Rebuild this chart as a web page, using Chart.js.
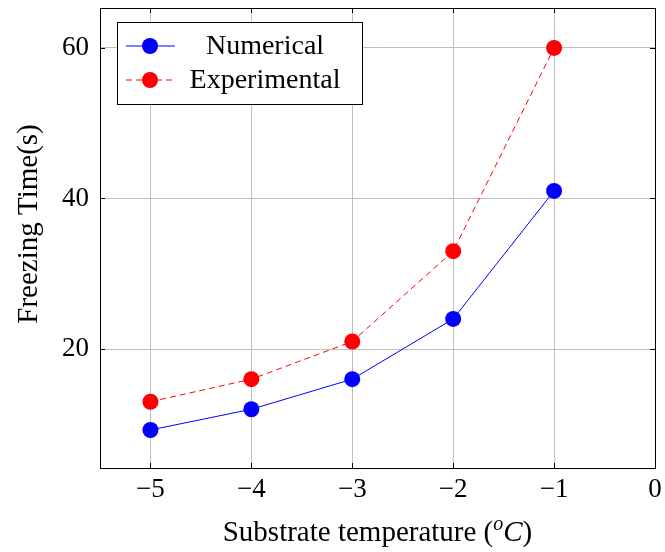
<!DOCTYPE html>
<html>
<head>
<meta charset="utf-8">
<script src="https://cdn.jsdelivr.net/npm/chart.js@4"></script>
<style>
  body { margin: 0; background: #fff; }
  #wrap { width: 665px; height: 552px; }
</style>
</head>
<body>
<div id="wrap"><canvas id="myChart" width="665" height="552"></canvas></div>
<script>
// data
const temperatures = [-5, -4, -3, -2, -1];
const numerical = [9.25, 12, 16, 24, 41];
const experimental = [13, 16, 21, 33, 60];
const xTicks = [-5, -4, -3, -2, -1, 0];
const yTicks = [20, 40, 60];

const FONT = "'Liberation Serif', 'DejaVu Serif', serif";

const toPoints = (xs, ys) => xs.map((x, i) => ({ x: x, y: ys[i] }));

// frame, inner ticks, legend and axis titles
const decorations = {
    id: 'decorations',
    afterDatasetsDraw(chart) {
        const ctx = chart.ctx;
        const a = chart.chartArea;
        const xs = chart.scales.x, ys = chart.scales.y;
        ctx.save();
        // inner tick marks
        ctx.strokeStyle = '#000';
        ctx.lineWidth = 1;
        ctx.beginPath();
        xTicks.forEach(v => {
            const px = Math.round(xs.getPixelForValue(v)) + 0.5;
            ctx.moveTo(px, a.bottom); ctx.lineTo(px, a.bottom - 5);
            ctx.moveTo(px, a.top); ctx.lineTo(px, a.top + 5);
        });
        yTicks.forEach(v => {
            const py = Math.round(ys.getPixelForValue(v)) + 0.5;
            ctx.moveTo(a.left, py); ctx.lineTo(a.left + 5, py);
            ctx.moveTo(a.right, py); ctx.lineTo(a.right - 5, py);
        });
        ctx.stroke();
        // frame
        ctx.strokeRect(Math.round(a.left) + 0.5, Math.round(a.top) + 0.5,
            Math.round(a.right - a.left), Math.round(a.bottom - a.top));

        // legend
        const lx = a.left + 17, ly = a.top + 14, lw = 245, lh = 82;
        ctx.fillStyle = '#fff';
        ctx.fillRect(lx, ly, lw, lh);
        ctx.strokeRect(lx + 0.5, ly + 0.5, lw, lh);
        chart.data.datasets.forEach((ds, i) => {
            const cy = ly + 24 + i * 34;
            ctx.strokeStyle = ds.borderColor;
            ctx.setLineDash(ds.borderDash || []);
            ctx.beginPath();
            ctx.moveTo(lx + 9, cy); ctx.lineTo(lx + 58, cy);
            ctx.stroke();
            ctx.setLineDash([]);
            ctx.fillStyle = ds.pointBackgroundColor;
            ctx.beginPath();
            ctx.arc(lx + 33, cy, 8, 0, Math.PI * 2);
            ctx.fill();
            ctx.fillStyle = '#000';
            ctx.font = "28px " + FONT;
            ctx.textAlign = 'center';
            ctx.textBaseline = 'middle';
            ctx.fillText(ds.label, lx + 148, cy + 1);
        });

        // y axis title
        ctx.save();
        ctx.translate(29, 224);
        ctx.rotate(-Math.PI / 2);
        ctx.font = "29px " + FONT;
        ctx.textAlign = 'center';
        ctx.textBaseline = 'middle';
        ctx.fillStyle = '#000';
        ctx.fillText('Freezing Time(s)', 0, 0);
        ctx.restore();

        // x axis title with superscript o and italic C
        const parts = [
            { t: 'Substrate temperature (', f: "29px " + FONT, dy: 0 },
            { t: 'o', f: "italic 20px " + FONT, dy: -11 },
            { t: 'C', f: "italic 29px " + FONT, dy: 0 },
            { t: ')', f: "29px " + FONT, dy: 0 }
        ];
        let total = 0;
        parts.forEach(p => { ctx.font = p.f; p.w = ctx.measureText(p.t).width; total += p.w; });
        let x = (a.left + a.right) / 2 - total / 2;
        const by = 541;
        ctx.textAlign = 'left';
        ctx.textBaseline = 'alphabetic';
        ctx.fillStyle = '#000';
        parts.forEach(p => { ctx.font = p.f; ctx.fillText(p.t, x, by + p.dy); x += p.w; });
        ctx.restore();
    }
};

const ctx = document.getElementById('myChart').getContext('2d');
new Chart(ctx, {
    type: 'line',
    data: {
        datasets: [{
            label: 'Numerical',
            data: toPoints(temperatures, numerical),
            borderColor: '#0000ff',
            backgroundColor: '#0000ff',
            pointBackgroundColor: '#0000ff',
            pointBorderWidth: 0,
            pointRadius: 8,
            borderWidth: 1,
            tension: 0
        }, {
            label: 'Experimental',
            data: toPoints(temperatures, experimental),
            borderColor: '#ff0000',
            backgroundColor: '#ff0000',
            pointBackgroundColor: '#ff0000',
            pointBorderWidth: 0,
            pointRadius: 8,
            borderWidth: 1,
            borderDash: [6, 4],
            tension: 0
        }]
    },
    options: {
        responsive: false,
        animation: false,
        layout: { padding: { left: 0, right: 10, top: 8, bottom: 0 } },
        plugins: {
            legend: { display: false },
            tooltip: { enabled: false }
        },
        scales: {
            x: {
                type: 'linear',
                min: -5.5,
                max: 0,
                afterFit: s => { s.height = 84; s.paddingLeft = 0; s.paddingRight = 0; },
                afterBuildTicks: s => { s.ticks = xTicks.map(v => ({ value: v })); },
                ticks: {
                    includeBounds: false,
                    color: '#000',
                    font: { family: FONT, size: 27 },
                    padding: 6,
                    callback: v => String(v).replace('-', '\u2212')
                },
                grid: { color: '#c0c0c0', tickLength: 0, drawTicks: false },
                border: { display: false }
            },
            y: {
                type: 'linear',
                min: 4.2,
                max: 65.3,
                afterFit: s => { s.width = 100; s.paddingTop = 0; s.paddingBottom = 0; },
                afterBuildTicks: s => { s.ticks = yTicks.map(v => ({ value: v })); },
                ticks: {
                    includeBounds: false,
                    color: '#000',
                    font: { family: FONT, size: 27 },
                    padding: 11
                },
                grid: { color: '#c0c0c0', tickLength: 0, drawTicks: false },
                border: { display: false }
            }
        }
    },
    plugins: [decorations]
});
</script>
</body>
</html>
